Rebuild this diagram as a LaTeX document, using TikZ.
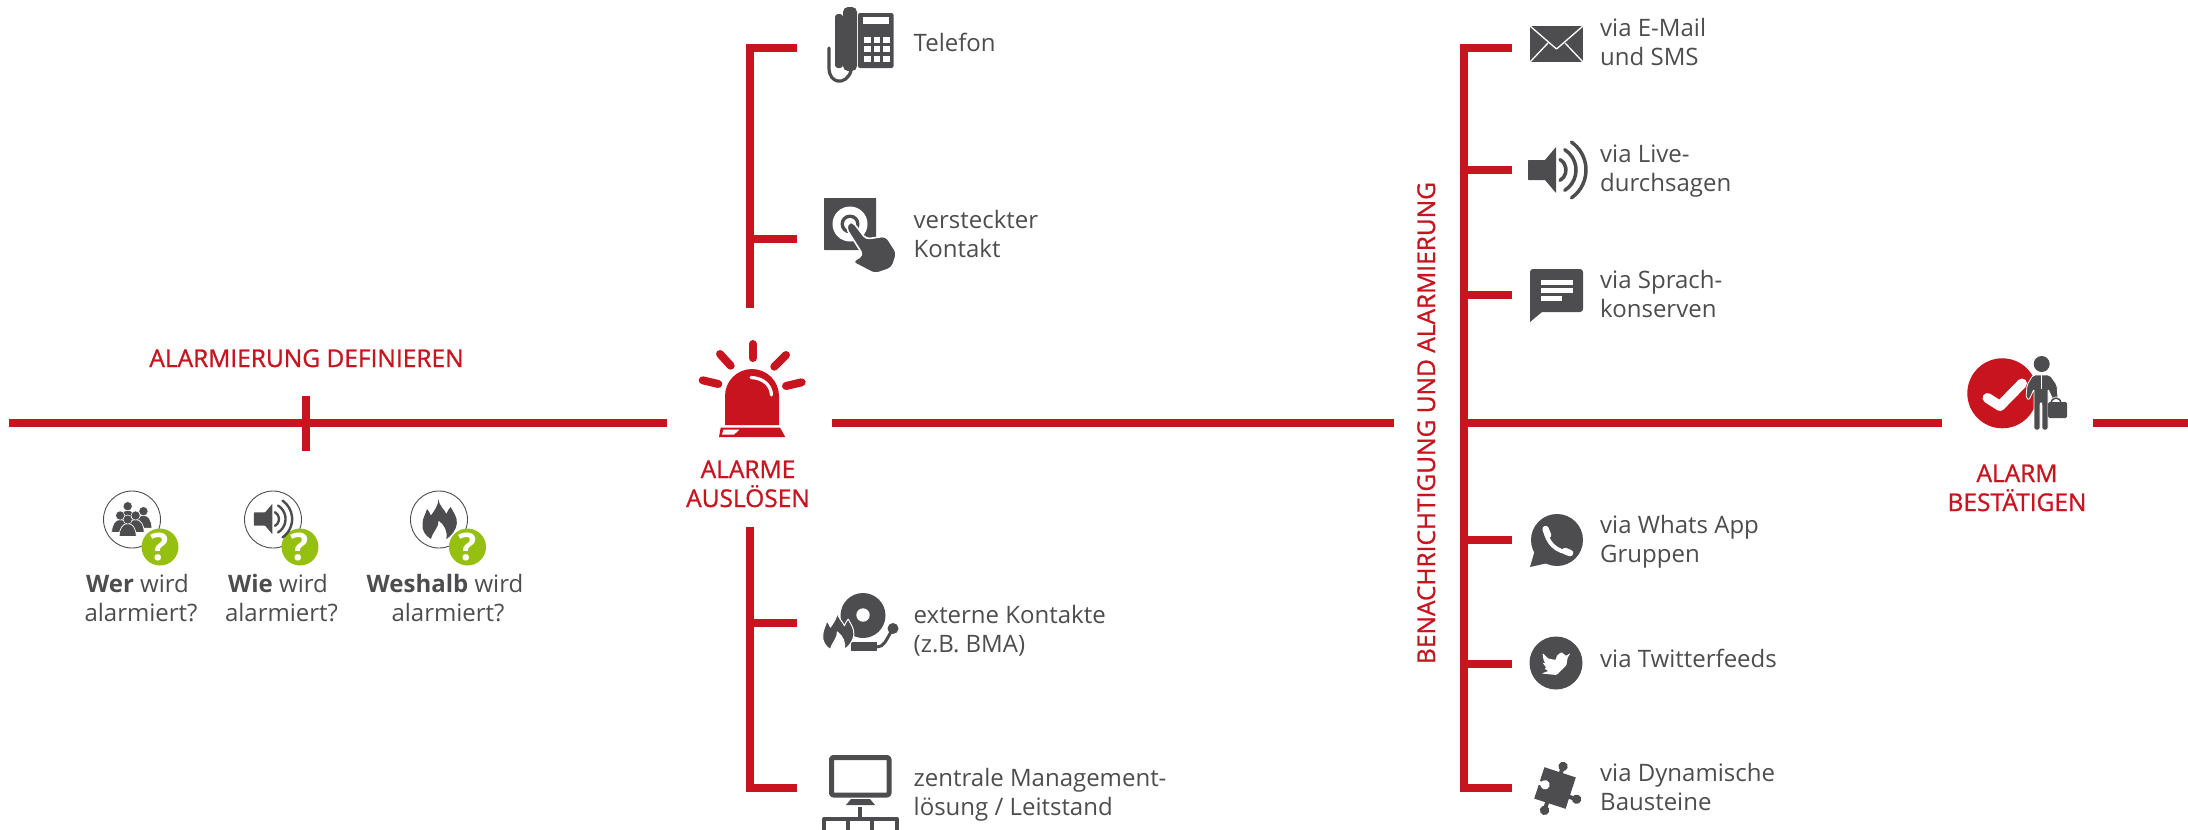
\documentclass[tikz,border=0pt]{standalone}
\usepackage{fontspec}
\setmainfont{Open Sans}
\newfontfamily\headfont[FakeBold=1]{Open Sans}
\definecolor{alarmred}{HTML}{C8141F}
\definecolor{icongray}{HTML}{4D4D4F}
\definecolor{askgreen}{HTML}{95C00F}
\tikzset{
  pics/speaker/.style={code={
    \fill[icongray,rounded corners=.5pt] (-29,-10)--(-12,-10)--(-1,-23)--(-1,23)--(-12,10)--(-29,10)--cycle;
    \draw[icongray,line width=#1,line cap=round] (-3,0)++(60:12) arc[start angle=60,end angle=-60,radius=12];
    \draw[icongray,line width=#1,line cap=round] (-5,0)++(58:24) arc[start angle=58,end angle=-58,radius=24];
    \draw[icongray,line width=#1,line cap=round] (-5,0)++(55:34) arc[start angle=55,end angle=-55,radius=34];
  }},
  pics/flame/.style={code={
    \fill[icongray,draw=#1,line width=1pt] (-.7,-20) .. controls (0,-12) and (5,-10) .. (6.7,-5) .. controls (8,-8) and (9,-10) .. (10.7,-12)
      .. controls (14,-6) and (17,-2) .. (16.7,4) .. controls (16,12) and (11,17) .. (6.7,20)
      .. controls (8,12) and (5,6) .. (-.7,1.5) .. controls (0,8) and (-6,12) .. (-8,20)
      .. controls (-13,17) and (-17,11) .. (-16,5) .. controls (-16,-1) and (-13,-5) .. (-11.7,-10)
      .. controls (-10,-8) and (-9,-6) .. (-8,-3.5) .. controls (-5,-8) and (-1,-13) .. (-.7,-20) -- cycle;
  }},
  pics/guy/.style={code={
    \fill[icongray,draw=white,line width=.7pt] (-8.5,8) .. controls (-8.5,0) and (-5,-5) .. (0,-5) .. controls (5,-5) and (8.5,0) .. (8.5,8) -- cycle;
    \fill[icongray,draw=white,line width=.5pt] (0,-9) circle[radius=4.6];
  }}
}
\begin{document}
\begin{tikzpicture}[x=1pt,y=-1pt,line join=round,>=stealth]
  \tikzset{
    redline/.style={draw=alarmred,line width=8pt,line join=miter},
    lbl/.style={anchor=base west,align=left,inner sep=0pt,text=icongray,font=\fontsize{24}{29}\selectfont},
    ask/.style={anchor=base,align=center,inner sep=0pt,text=icongray,font=\fontsize{24}{29}\selectfont},
    head/.style={anchor=base,align=center,inner sep=0pt,text=alarmred,font=\headfont\fontsize{24.5}{29}\selectfont},
    ring/.style={draw=icongray,line width=.9pt,fill=white},
    qmark/.style={circle,fill=askgreen,minimum size=37pt,inner sep=0pt,text=white,font=\fontsize{38}{38}\selectfont\bfseries}
  }
  \useasboundingbox (0,0) rectangle (2188,830);
  %%Main line and branches
  \coordinate (mainA) at (9,423);
  \coordinate (mainB) at (667,423);
  \coordinate (mainC) at (832,423);
  \coordinate (mainD) at (1394,423);
  \coordinate (mainE) at (1464,423);
  \coordinate (mainF) at (1942,423);
  \coordinate (mainG) at (2093,423);
  \coordinate (mainH) at (2188,423);
  \coordinate (tickT) at (306,396);
  \coordinate (tickB) at (306,451);
  \draw[redline] (mainA)--(mainB);
  \draw[redline] (mainC)--(mainD);
  \draw[redline] (mainE)--(mainF);
  \draw[redline] (mainG)--(mainH);
  \draw[redline] (tickT)--(tickB);
  \coordinate (triggerA) at (797,47.5);
  \coordinate (triggerB) at (797,239);
  \coordinate (triggerC) at (750,308);
  \coordinate (triggerD) at (750,527);
  \coordinate (triggerE) at (797,623);
  \coordinate (triggerF) at (797,787.5);
  \draw[redline] (triggerC)|-(triggerA);
  \draw[redline] (triggerD)|-(triggerF);
  \draw[redline] (750,239)--(triggerB);
  \draw[redline] (750,623)--(triggerE);
  \coordinate (notifyA) at (1512,47.5);
  \coordinate (notifyF) at (1512,787.5);
  \draw[redline] (notifyA)-|(mainE);
  \draw[redline] (notifyF)-|(mainE);
  \foreach \y in {170,295,540,664} \draw[redline] (1464,\y)--(1512,\y);
  %%Headings
  \node[head] (define) at (306.5,367) {ALARMIERUNG DEFINIEREN};
  \node[head] (trigger) at (748,507) {ALARME\\AUSLÖSEN};
  \node[head] (confirm) at (2017,511) {ALARM\\BESTÄTIGEN};
  \node[head,rotate=90] (notify) at (1435,423) {BENACHRICHTIGUNG UND ALARMIERUNG};
  %%Labels
  \node[lbl] (tel) at (913.5,51) {Telefon};
  \node[lbl] (hidden) at (913.5,257) {versteckter\\Kontakt};
  \node[lbl] (extern) at (913.5,652) {externe Kontakte\\(z.B. BMA)};
  \node[lbl] (central) at (913.5,815) {zentrale Management-\\lösung / Leitstand};
  \node[lbl] (mail) at (1600,65) {via E-Mail\\und SMS};
  \node[lbl] (live) at (1600,191) {via Live-\\durchsagen};
  \node[lbl] (voice) at (1600,317) {via Sprach-\\konserven};
  \node[lbl] (whats) at (1600,562) {via Whats App\\Gruppen};
  \node[lbl] (twitter) at (1600,667) {via Twitterfeeds};
  \node[lbl] (puzzle) at (1600,810) {via Dynamische\\Bausteine};
  \node[ask] (who) at (141,621) {\textbf{Wer} wird\hspace*{7pt}\\alarmiert?};
  \node[ask] (how) at (281.5,621) {\textbf{Wie} wird\hspace*{7pt}\\alarmiert?};
  \node[ask] (why) at (448,621) {\textbf{Weshalb} wird\hspace*{6pt}\\alarmiert?};
  %%Question icons
  \foreach \n/\x in {whoR/132,howR/273,whyR/439} \node[circle,ring,minimum size=57pt,inner sep=0pt] (\n) at (\x,519.5) {};
  \foreach \i/\x in {1/160,2/300,3/467.5} \node[qmark] (q\i) at (\x,547) {?};
  \pic[scale=.66] at (273,519) {speaker=2.4pt};
  \pic[xscale=1.05] at (439.3,519) {flame=none};
  \pic at (143.4,520.2) {guy};
  \pic at (127.7,515.2) {guy};
  \pic at (120.2,524.5) {guy};
  \pic at (135.6,524.5) {guy};
  \pic at (127.7,528.5) {guy};
  %%Beacon
  \foreach \a/\b/\c/\d in {752.7/344/752.7/358,720/354/730.7/365.7,786/355/774.3/366.7,702.7/380.3/718.3/384,801.7/382.3/786/386}
    \draw[alarmred,line width=8pt,line cap=round] (\a,\b)--(\c,\d);
  \fill[alarmred] (725,425)--(725,396) arc[start angle=180,end angle=360,radius=27]--(779,425)--cycle;
  \fill[alarmred] (720.7,427.5)--(780,427.5)--(785.3,437)--(719,437)--cycle;
  \fill[white] (723.5,429.5)--(739.3,429.5)--(734,434.7)--(722,434.7)--cycle;
  \draw[white,line width=3.2pt,line cap=round] (751,377.5) .. controls (763,378) and (771,385) .. (771.5,395);
  %%Phone
  \fill[icongray,rounded corners=3pt] (835,14) rectangle (843,68);
  \fill[icongray,rounded corners=5pt] (843,7) rectangle (857,71);
  \fill[icongray,rounded corners=2pt] (858,13) rectangle (893.5,68);
  \fill[white] (863,17) rectangle (889,24);
  \foreach \i in {0,1,2} \foreach \j in {0,1,2}
    \fill[white] ({864+\i*9.5},{37+\j*9.3}) rectangle ({870.5+\i*9.5},{43+\j*9.3});
  \draw[icongray,line width=3.2pt,line cap=round] (829,48)--(829,68) .. controls (829,84) and (846,86) .. (851,71);
  %%Hidden contact
  \fill[icongray,rounded corners=.5pt] (824,198) rectangle (876,250);
  \fill[white] (850,224) circle[radius=17.5];
  \fill[icongray] (850,224) circle[radius=9.5];
  \fill[white] (850,224) circle[radius=6];
  \fill[icongray,draw=white,line width=1.6pt,rounded corners=4pt] (849,222)--(853,222)--(866,239)--(886,236)--(897,253)--(892,268)--(875,274)--(852,262)--(863,255)--(846,228)--cycle;
  %%Bell
  \fill[icongray] (863,615.5) circle[radius=22.5];
  \fill[white] (863,615) circle[radius=6.7];
  \draw[white,line width=1.6pt] (856,641) .. controls (868,641) and (878,638) .. (886,632);
  \fill[icongray] (851,642) rectangle (877,651);
  \draw[icongray,line width=3pt] (877,647) .. controls (884,647) and (886,640) .. (891,632);
  \fill[icongray] (893,628.5) circle[radius=5.5];
  \pic[scale=.95] at (838,630.5) {flame=white};
  %%Management system
  \draw[icongray,line width=5pt,rounded corners=2pt] (831.5,757.5) rectangle (889,795);
  \fill[icongray] (851,799)--(870,799)--(875,805)--(846,805)--cycle;
  \draw[icongray,line width=4pt] (860,807)--(860,818);
  \draw[icongray,line width=4pt] (824,830)--(824,819)--(897,819)--(897,830);
  \foreach \x in {848,872} \draw[icongray,line width=4pt] (\x,819)--(\x,830);
  %%Envelope
  \fill[icongray] (1530,26) rectangle (1583,62);
  \draw[white,line width=1.3pt] (1530,26)--(1556.5,49)--(1583,26);
  \draw[white,line width=1.3pt] (1530,62)--(1548,43);
  \draw[white,line width=1.3pt] (1583,62)--(1565,43);
  %%Speaker
  \pic at (1557,170) {speaker=3.5pt};
  %%Chat
  \fill[icongray,rounded corners=3pt] (1530,269) rectangle (1583,312);
  \fill[icongray] (1530,300)--(1530,322)--(1542,312)--cycle;
  \fill[white] (1541,280) rectangle (1573,285);
  \fill[white] (1541,288) rectangle (1573,293);
  \fill[white] (1541,296) rectangle (1562,301);
  %%Whats App
  \fill[icongray] (1557,540) circle[radius=26];
  \fill[icongray] (1535,550)--(1530,567)--(1548,563)--cycle;
  \draw[white,line width=4pt,line cap=round] (1545,529) .. controls (1547,543) and (1556,552) .. (1571,553);
  \draw[white,line width=6.5pt,line cap=round] (1545.5,529)--(1548,535);
  \draw[white,line width=6.5pt,line cap=round] (1565,551)--(1570,553);
  %%Twitter
  \fill[icongray] (1556,663) circle[radius=26.5];
  \fill[white,rounded corners=1pt] (1570.5,653)--(1566,656)--(1561.5,652)--(1556.5,656)--(1556,660)--(1548,658.5)--(1542.5,653)--(1543.5,660)--(1545.5,663.5)--(1542.5,662.5)--(1546.5,668)--(1544,668.5)--(1548.5,671)--(1541.5,673.5)--(1556.5,675)--(1566.5,665)--(1567.5,658)--cycle;
  %%Puzzle piece
  \begin{scope}[shift={(1555,788)},rotate=-18]
    \fill[icongray] (-16.5,-16.5) rectangle (16.5,16.5);
    \fill[icongray] (1,-23) circle[radius=4.7];
    \fill[icongray] (-1,-15) rectangle (3,-21);
    \fill[icongray] (24,4) circle[radius=4.7];
    \fill[icongray] (16,2) rectangle (22,6);
    \fill[icongray] (-3,24.5) circle[radius=4.7];
    \fill[icongray] (-5,16) rectangle (-1,22);
    \fill[white] (-10.5,0) circle[radius=4.7];
    \fill[white] (-17,-2) rectangle (-12,2);
  \end{scope}
  %%Confirm icon
  \fill[alarmred] (2002.3,393.3) circle[radius=35];
  \draw[white,line width=10pt,line cap=round] (1987.5,398)--(2000,406)--(2022,383.5);
  \fill[icongray,draw=white,line width=.8pt,rounded corners=2pt] (2033,375)--(2050,375)--(2057,385)--(2058,399)--(2053,400)--(2048,389)--(2048,430)--(2042,430)--(2042,403)--(2040,403)--(2040,430)--(2034,430)--(2034,389)--(2029,400)--(2026,398)--(2027,385)--cycle;
  \fill[icongray] (2041.7,364) circle[radius=8];
  \draw[white,line width=.8pt] (2041.7,373)--(2041.7,389);
  \draw[white,line width=3pt] (2051,404) .. controls (2051,396) and (2061,396) .. (2061,404);
  \draw[icongray,line width=1.5pt] (2051,404) .. controls (2051,396) and (2061,396) .. (2061,404);
  \fill[icongray,rounded corners=1.5pt] (2048,402) rectangle (2067,418);
\end{tikzpicture}
\end{document}
